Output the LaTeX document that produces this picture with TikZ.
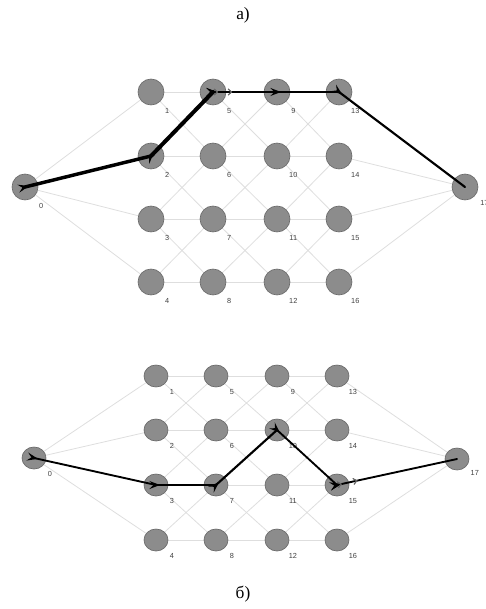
\documentclass[tikz,border=0pt]{standalone}
\usepackage{fontspec}
\setmainfont{Liberation Serif}
\newfontfamily\lblfont{Liberation Sans}
\usetikzlibrary{arrows.meta,decorations.markings,backgrounds,shapes.geometric}
\definecolor{nodefill}{HTML}{8C8C8C}
\definecolor{nodeborder}{HTML}{6A6A6A}
\definecolor{edgegray}{HTML}{DEDEDE}
\begin{document}
\begin{tikzpicture}[x=0.75pt,y=-0.75pt,
  vtxa/.style={circle,draw=nodeborder,fill=nodefill,line width=0.5pt,minimum size=19.5pt,inner sep=0pt},
  vtxb/.style={ellipse,draw=nodeborder,fill=nodefill,line width=0.5pt,minimum width=18pt,minimum height=16.5pt,inner sep=0pt},
  lbl/.style={font=\lblfont\fontsize{5.5}{6}\selectfont,text=black!75,anchor=center},
  edge/.style={draw=edgegray,line width=0.6pt},
  route/.style={draw=black,line width=#1,line cap=round,postaction={decorate},
    decoration={markings,mark=at position 3pt with {\arrow{Stealth[length=8pt,width=6pt,inset=3pt]}}}},
  midmark/.style={postaction={decorate},decoration={markings,
    mark=at position #1 with {\arrow[black!60]{Straight Barb[length=2.5pt,width=4.5pt,line width=0.7pt]}},
    mark=at position #1+3.5pt with {\arrow[black!60]{Straight Barb[length=2.5pt,width=4.5pt,line width=0.7pt]}}}},
  title/.style={font=\fontsize{13}{15}\selectfont}
]
\useasboundingbox (0,0) rectangle (485,609);

% ---------- titles ----------
\node[title] (ta) at (243,15) {а)};
\node[title] (tb) at (243,594) {б)};

% ---------- diagram a) nodes ----------
\node[vtxa,label={[lbl,label distance=9pt]-50:0}] (a0) at (25,187) {};
\node[vtxa,label={[lbl,label distance=9pt]-40:17}] (a17) at (465,187) {};
\foreach \c/\x in {1/151,2/213,3/277,4/339}
 \foreach \r/\y in {1/92,2/156,3/219,4/282}{
   \pgfmathtruncatemacro\n{4*(\c-1)+\r}
   \node[vtxa,label={[lbl,label distance=9pt]-50:\n}] (a\n) at (\x,\y) {};
 }

% ---------- diagram b) nodes ----------
\node[vtxb,label={[lbl,label distance=8pt]-45:0}] (b0) at (34,458) {};
\node[vtxb,label={[lbl,label distance=8pt]-38:17}] (b17) at (457,459) {};
\foreach \c/\x in {1/156,2/216,3/277,4/337}
 \foreach \r/\y in {1/376,2/430,3/485,4/540}{
   \pgfmathtruncatemacro\n{4*(\c-1)+\r}
   \node[vtxb,label={[lbl,label distance=8pt]-45:\n}] (b\n) at (\x,\y) {};
 }

% ---------- light edges ----------
\begin{scope}[on background layer]
\foreach \g in {a,b}{
  \foreach \i in {1,...,4} \draw[edge] (\g0) -- (\g\i);
  \foreach \i in {13,...,16} \draw[edge] (\g\i) -- (\g17);
  \foreach \c in {1,2,3}
   \foreach \r in {1,...,4}{
     \pgfmathtruncatemacro\s{4*(\c-1)+\r}
     \pgfmathtruncatemacro\t{\s+4}
     \pgfmathtruncatemacro\u{\t-1}
     \pgfmathtruncatemacro\v{\t+1}
     \draw[edge] (\g\s) -- (\g\t);
     \ifnum\r>1 \draw[edge] (\g\s) -- (\g\u);\fi
     \ifnum\r<4 \draw[edge] (\g\s) -- (\g\v);\fi
   }
}
\end{scope}

% ---------- route a) ----------
\draw[route=2.6pt] (a0.center) -- (a2.center);
\draw[route=3pt] (a2.center) -- (a5.center);
\draw[route=1.6pt,midmark=0.3] (a5.center) -- (a9.center);
\draw[route=1.6pt] (a9.center) -- (a13.center);
\draw[route=1.6pt] (a13.center) -- (a17.center);

% ---------- route b) ----------
\draw[route=1.4pt] (b0.center) -- (b3.center);
\draw[route=1.4pt] (b3.center) -- (b7.center);
\draw[route=1.6pt] (b7.center) -- (b10.center);
\draw[route=1.4pt] (b10.center) -- (b15.center);
\draw[route=1.4pt,midmark=0.17] (b15.center) -- (b17.center);
\end{tikzpicture}
\end{document}
